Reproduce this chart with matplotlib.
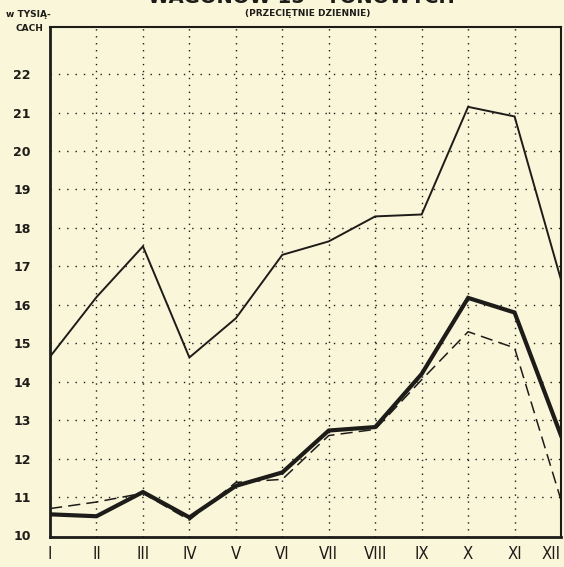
import numpy as np
import matplotlib
matplotlib.use("Agg")
import matplotlib.pyplot as plt

# months I..XII
months = ["I", "II", "III", "IV", "V", "VI", "VII", "VIII", "IX", "X", "XI", "XII"]
y_ticks = list(range(10, 23))

# thin line (upper series)
upper = [14.65, 16.2, 17.52, 14.63, 15.65, 17.3, 17.65, 18.3, 18.35, 21.15, 20.9, 16.65]
# thick line
thick = [10.55, 10.5, 11.13, 10.47, 11.29, 11.64, 12.73, 12.82, 14.2, 16.18, 15.8, 12.6]
# dashed line
dashed = [10.7, 10.87, 11.1, 10.4, 11.38, 11.46, 12.6, 12.76, 14.05, 15.3, 14.88, 10.92]

bg = "#f9f6da"
ink = "#1e1c18"

fig = plt.figure(figsize=(5.64, 5.67), dpi=100, facecolor=bg)
ax = fig.add_axes([0.0887, 0.0529, 0.906, 0.899])
ax.set_facecolor(bg)

x = np.arange(1, 13)
ax.plot(x, upper, color=ink, lw=1.4, solid_joinstyle="miter", zorder=4)
ax.plot(x, thick, color=ink, lw=3.0, solid_joinstyle="miter", zorder=5)
ax.plot(x, dashed, color=ink, lw=1.1, linestyle=(0, (8, 4)), zorder=4)

ax.set_xlim(1, 12)
ax.set_ylim(9.96, 23.22)

# dotted grid
for v in range(11, 23):
    ax.axhline(v, color=ink, lw=1.0, linestyle=(0, (1, 5)), zorder=1)
for m in range(2, 12):
    ax.axvline(m, color=ink, lw=1.0, linestyle=(0, (1, 4)), zorder=1)

ax.set_yticks(y_ticks)
ax.set_yticklabels([str(v) for v in y_ticks], fontsize=9, fontweight="bold", color=ink)
ax.set_xticks(x)
ax.set_xticklabels(months, fontsize=12, color=ink)
ax.tick_params(axis="both", length=0)
ax.tick_params(axis="y", pad=14)
ax.tick_params(axis="x", pad=6)
for lab in ax.get_xticklabels():
    lab.set_fontstretch("condensed")
ax.get_xticklabels()[-1].set_ha("right")

for side in ["left", "bottom"]:
    ax.spines[side].set_linewidth(2.0)
for side in ["top", "right"]:
    ax.spines[side].set_linewidth(1.5)
for s in ax.spines.values():
    s.set_color(ink)

# titles (top partly cut off in the scan)
fig.text(0.535, 1.004, "WAGONÓW 15 - TONOWYCH", ha="center", va="center",
         fontsize=14, fontweight="bold", color=ink)
fig.text(0.545, 0.976, "(PRZECIĘTNIE DZIENNIE)", ha="center", va="center",
         fontsize=6.5, fontweight="bold", color=ink)
fig.text(0.05, 0.975, "w TYSIĄ-", ha="center", va="center", fontsize=6.5,
         fontweight="bold", color=ink)
fig.text(0.052, 0.95, "CACH", ha="center", va="center", fontsize=6.5,
         fontweight="bold", color=ink)

fig.savefig("out.png", dpi=100, facecolor=bg)
